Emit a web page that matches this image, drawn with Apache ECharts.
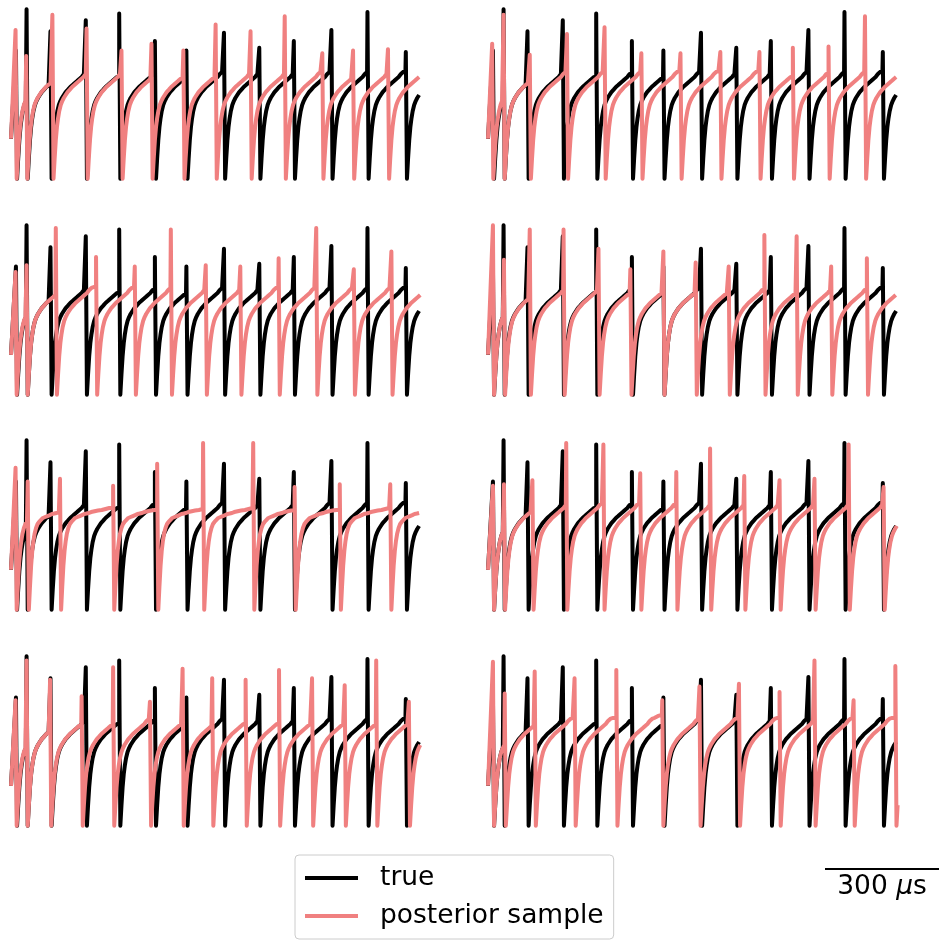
<!DOCTYPE html>
<html>
<head>
<meta charset="utf-8">
<script src="https://cdn.jsdelivr.net/npm/echarts@6.0.0/dist/echarts.min.js"></script>
<style>
  html, body { margin: 0; padding: 0; background: #fff; }
  #chart { width: 939px; height: 940px; }
</style>
</head>
<body>
<div id="chart"></div>
<script>
// time in microseconds, voltage in mV
const TIME_END = 1080
const START_V = -55

// shape of the recovery after a spike (time since spike / voltage)
const TMPL_DT = [3, 6, 9, 12, 15, 18, 22, 26, 30, 35, 40, 46, 52, 58, 64, 70, 76, 82, 88, 94, 100, 110, 120, 130, 140, 150]
const TMPL_FAST = [-84, -69, -56, -46.5, -40, -35, -30.5, -27.6, -25.4, -23.2, -21.1, -19.3, -17.4, -16, -14.5, -13.1, -11.6, -10.2, -8, -6.5, -5.8, -4.3, -3.6, -2.9, -2.2, -1.4]
const TMPL_SLOW = [-84, -67, -52, -41.4, -34.2, -29.1, -24.7, -21.8, -20.3, -18.9, -17.4, -16.7, -16, -15.3, -14.5, -14.2, -13.8, -13.1, -12.7, -12.3, -12, -11.6, -10.9, -10.2, -9.4, -8.7]

// true trace: spike times and peak voltages
const TRUE_T = [13, 41, 104, 197, 285, 379, 462, 561, 654, 745, 844, 939, 1040]
const TRUE_V = [9, 39, 23, 31, 36, 16, 9, 22, 11, 16, 24, 37, 8]

// posterior samples, one per panel
const S1_T = [12, 40, 109, 199, 291, 370, 454, 539, 631, 721, 820, 901, 993]
const S1_V = [24, 5, 35, 25, 9, 14, 9, 28, 23, 34, 7, 9, 10]
const S2_T = [11, 41, 110, 208, 307, 404, 507, 612, 715, 803, 897, 993]
const S2_V = [14, 35, 6, 21, 26, 7, 7, 8, 8, 11, 12, 34]
const S3_T = [12, 41, 118, 224, 326, 421, 513, 604, 705, 804, 903, 1002]
const S3_V = [5, 10, 37, 16, 9, 36, 10, 9, 15, 37, 7, 20]
const S4_T = [13, 42, 110, 199, 291, 375, 462, 547, 634, 728, 813, 904, 998]
const S4_V = [39, 14, 36, 36, 22, 7, 20, 12, 9, 32, 31, 9, 15]
const S5_T = [12, 44, 129, 269, 385, 506, 638, 747, 866, 999]
const S5_V = [19, 9, 11, 6, 22, 37, 37, 5, 7, 7]
const S6_T = [13, 42, 117, 206, 304, 401, 496, 585, 675, 768, 860, 950, 1042]
const S6_V = [6, 7, 10, 37, 36, 15, 16, 33, 13, 10, 11, 36, 5]
const S7_T = [12, 41, 103, 186, 269, 366, 452, 530, 618, 706, 793, 879, 962, 1048]
const S7_V = [7, 36, 22, 10, 31, 6, 30, 23, 22, 29, 23, 18, 36, 6]
const S8_T = [13, 44, 123, 228, 338, 459, 557, 661, 768, 860, 963, 1073]
const S8_V = [35, 12, 28, 23, 29, 7, 17, 19, 13, 36, 7, 32]

const SCALE_BAR = [0, 300]
const SCALE_LABEL = '300 {i|μ}s'

const samples = [
  [S1_T, S1_V, TMPL_FAST], [S2_T, S2_V, TMPL_FAST],
  [S3_T, S3_V, TMPL_FAST], [S4_T, S4_V, TMPL_FAST],
  [S5_T, S5_V, TMPL_SLOW], [S6_T, S6_V, TMPL_FAST],
  [S7_T, S7_V, TMPL_FAST], [S8_T, S8_V, TMPL_FAST]
]

const ROW_TOPS = [0, 216, 431, 647]
const COL_LEFTS = [11, 488]
const FONT = 'DejaVu Sans'
const PINK = '#F08080'
const LINE_W = 4

function buildTrace(times, peaks, tmpl) {
  const pts = [[0, START_V]]
  times.forEach((ts, i) => {
    const next = i + 1 < times.length ? times[i + 1] : TIME_END
    pts.push([ts, peaks[i]])
    let last = null
    for (let j = 0; j < TMPL_DT.length; j++) {
      const t = ts + TMPL_DT[j]
      if (t >= next) break
      pts.push([t, tmpl[j]])
      last = tmpl[j]
    }
    if (i + 1 < times.length && last !== null) pts.push([next, last])
  })
  return pts
}

const trueTrace = buildTrace(TRUE_T, TRUE_V, TMPL_FAST)

const grid = []
const xAxis = []
const yAxis = []
const series = []

samples.forEach((s, i) => {
  const row = Math.floor(i / 2)
  const col = i % 2
  grid.push({ left: COL_LEFTS[col], top: ROW_TOPS[row] + 1, width: 410, height: 186 })
  xAxis.push({ type: 'value', gridIndex: i, min: 0, max: TIME_END, show: false })
  yAxis.push({ type: 'value', gridIndex: i, min: -90, max: 45, show: false })
  series.push({
    name: 'true', type: 'line', xAxisIndex: i, yAxisIndex: i,
    data: trueTrace, showSymbol: false, symbol: 'none', clip: false, silent: true,
    lineStyle: { color: '#000', width: LINE_W, join: 'round' }, itemStyle: { color: '#000' }, z: 2
  })
  series.push({
    name: 'posterior sample', type: 'line', xAxisIndex: i, yAxisIndex: i,
    data: buildTrace(s[0], s[1], s[2]), showSymbol: false, symbol: 'none', clip: false, silent: true,
    lineStyle: { color: PINK, width: LINE_W, join: 'round' }, itemStyle: { color: PINK }, z: 3
  })
})

// scale bar
grid.push({ left: 825, top: 864, width: 114, height: 10 })
xAxis.push({ type: 'value', gridIndex: 8, min: SCALE_BAR[0], max: SCALE_BAR[1], show: false })
yAxis.push({ type: 'value', gridIndex: 8, min: -1, max: 1, show: false })
series.push({
  name: 'scalebar', type: 'line', xAxisIndex: 8, yAxisIndex: 8,
  data: SCALE_BAR.map(t => [t, 0]), showSymbol: false, symbol: 'none', clip: false, silent: true,
  lineStyle: { color: '#000', width: 2 }
})

const chart = echarts.init(document.getElementById('chart'))
chart.setOption({
  animation: false,
  backgroundColor: '#fff',
  grid, xAxis, yAxis, series,
  legend: {
    orient: 'vertical',
    left: 295,
    top: 855,
    padding: [8, 10, 8, 10],
    itemGap: 8,
    itemWidth: 53,
    itemHeight: 4,
    selectedMode: false,
    borderColor: '#cccccc',
    borderWidth: 1,
    borderRadius: 4,
    backgroundColor: 'rgba(255,255,255,0.8)',
    textStyle: { fontFamily: FONT, fontSize: 26.5, color: '#000', lineHeight: 30, padding: [0, 0, 0, 17] },
    data: [
      { name: 'true', icon: 'rect', itemStyle: { color: '#000' } },
      { name: 'posterior sample', icon: 'rect', itemStyle: { color: PINK } }
    ]
  },
  graphic: [{
    type: 'text',
    x: 882,
    y: 887,
    style: {
      text: SCALE_LABEL,
      fontFamily: FONT,
      fontSize: 26.5,
      fill: '#000',
      align: 'center',
      verticalAlign: 'middle',
      rich: { i: { fontFamily: FONT, fontSize: 26.5, fontStyle: 'italic' } }
    }
  }]
})
</script>
</body>
</html>
